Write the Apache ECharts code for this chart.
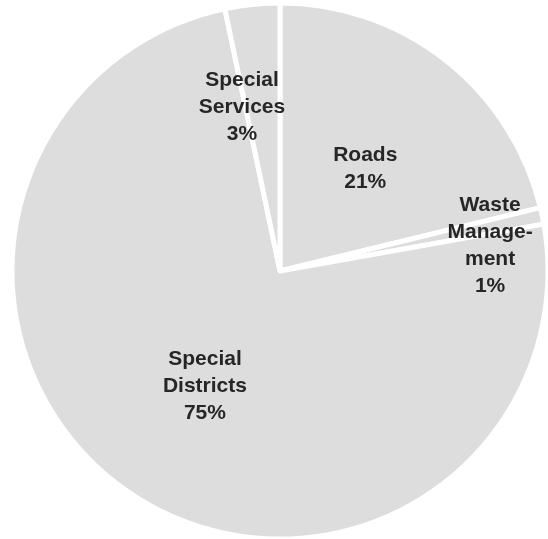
<!DOCTYPE html>
<html>
<head>
<meta charset="utf-8">
<script src="https://cdn.jsdelivr.net/npm/echarts@6/dist/echarts.min.js"></script>
<style>
  html, body { margin: 0; padding: 0; background: #ffffff; }
  #chart { width: 548px; height: 539px; }
</style>
</head>
<body>
<div id="chart"></div>
<script>
// slice names (with the line breaks used on the chart) and shares in percent
var categories = ["Roads", "Waste\nManage-\nment", "Special\nDistricts", "Special\nServices"];
var values = [21.2, 1.0, 74.5, 3.3];

// where each label sits: angle (deg, clockwise from 12 o'clock) and fraction of radius
var labelAngles = [39.5, 82.9, 213.3, 347];
var labelRadius = [0.5, 0.79, 0.51, 0.63];

var cx = 280, cy = 271, R = 268;

var chart = echarts.init(document.getElementById("chart"));

var option = {
  backgroundColor: "#ffffff",
  animation: false,
  series: [
    {
      type: "pie",
      center: [cx, cy],
      radius: [0, R],
      startAngle: 90,
      clockwise: true,
      avoidLabelOverlap: false,
      itemStyle: {
        color: "#dddddd",
        borderColor: "#ffffff",
        borderWidth: 5
      },
      label: {
        show: true,
        position: "inside",
        fontFamily: "'Liberation Sans', Arial, sans-serif",
        fontWeight: "bold",
        fontSize: 21,
        lineHeight: 27,
        color: "#262626",
        align: "center",
        formatter: function (p) {
          return p.name + "\n" + Math.round(p.value) + "%";
        }
      },
      labelLine: { show: false },
      labelLayout: function (p) {
        var i = p.dataIndex;
        var a = labelAngles[i] * Math.PI / 180;
        var r = labelRadius[i] * R;
        return {
          x: cx + r * Math.sin(a),
          y: cy - r * Math.cos(a) + 1,
          align: "center",
          verticalAlign: "middle"
        };
      },
      emphasis: { disabled: true },
      data: categories.map(function (c, i) {
        return { name: c, value: values[i] };
      })
    }
  ]
};

chart.setOption(option);
</script>
</body>
</html>
